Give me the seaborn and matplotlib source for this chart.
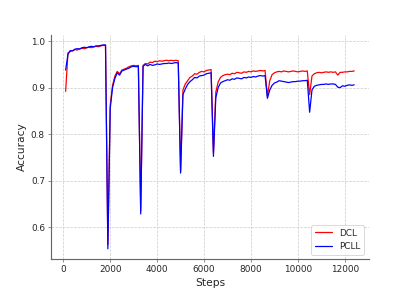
import numpy as np
import pandas as pd
import matplotlib
matplotlib.use("Agg")
import matplotlib.pyplot as plt
import seaborn as sns

# evaluation every 100 steps
steps = list(range(100, 12500, 100))

dcl = [
    # task 1
    0.892, 0.975, 0.978, 0.980, 0.982, 0.981, 0.984, 0.985, 0.984, 0.986,
    0.987, 0.986, 0.988, 0.989, 0.988, 0.990, 0.991, 0.991,
    0.562,
    # task 2
    0.862, 0.905, 0.925, 0.935, 0.930, 0.938, 0.940, 0.942, 0.945, 0.947,
    0.948, 0.947, 0.948,
    0.635,
    # task 3
    0.948, 0.952, 0.951, 0.955, 0.954, 0.957, 0.956, 0.958, 0.957, 0.958,
    0.959, 0.958, 0.959, 0.958, 0.959, 0.958,
    0.720,
    # task 4
    0.895, 0.908, 0.915, 0.922, 0.925, 0.930, 0.929, 0.933, 0.935, 0.934,
    0.937, 0.938, 0.939,
    0.760,
    # task 5
    0.890, 0.912, 0.922, 0.926, 0.928, 0.929, 0.928, 0.931, 0.930, 0.933,
    0.932, 0.931, 0.934, 0.933, 0.935, 0.934, 0.936, 0.935, 0.936, 0.937,
    0.936, 0.937,
    0.882,
    # task 6
    0.915, 0.928, 0.932, 0.934, 0.935, 0.934, 0.936, 0.935, 0.934, 0.935,
    0.936, 0.935, 0.934, 0.935, 0.936, 0.935, 0.936,
    0.885,
    # task 7
    0.925, 0.930, 0.932, 0.933, 0.932, 0.933, 0.934, 0.933, 0.934, 0.933,
    0.934, 0.927, 0.933, 0.933, 0.934, 0.934, 0.935, 0.935, 0.936,
]

pcll = [
    0.938, 0.972, 0.980, 0.979, 0.983, 0.984, 0.983, 0.986, 0.987, 0.986,
    0.988, 0.989, 0.988, 0.990, 0.990, 0.991, 0.992, 0.992,
    0.553,
    0.855, 0.900, 0.920, 0.932, 0.927, 0.936, 0.938, 0.940, 0.942, 0.945,
    0.946, 0.945, 0.946,
    0.628,
    0.946, 0.950, 0.947, 0.950, 0.948, 0.949, 0.951, 0.950, 0.951, 0.952,
    0.952, 0.953, 0.952, 0.953, 0.954, 0.953,
    0.716,
    0.885, 0.897, 0.907, 0.913, 0.917, 0.922, 0.921, 0.925, 0.926, 0.927,
    0.930, 0.931, 0.932,
    0.752,
    0.878, 0.900, 0.910, 0.913, 0.915, 0.917, 0.916, 0.919, 0.918, 0.921,
    0.920, 0.919, 0.922, 0.921, 0.923, 0.922, 0.924, 0.923, 0.925, 0.926,
    0.925, 0.926,
    0.877,
    0.895, 0.905, 0.910, 0.912, 0.915, 0.914, 0.913, 0.912, 0.911, 0.912,
    0.913, 0.913, 0.914, 0.914, 0.915, 0.915, 0.916,
    0.847,
    0.895, 0.903, 0.905, 0.906, 0.907, 0.907, 0.908, 0.907, 0.908, 0.908,
    0.907, 0.901, 0.900, 0.904, 0.903, 0.905, 0.906, 0.905, 0.906,
]

df = pd.DataFrame({"Steps": steps * 2,
                   "Accuracy": dcl + pcll,
                   "method": ["DCL"] * len(steps) + ["PCLL"] * len(steps)})

sns.set_style("ticks")
fig, ax = plt.subplots(figsize=(6.4, 4.55), dpi=64)

sns.lineplot(data=df, x="Steps", y="Accuracy", hue="method",
             palette={"DCL": "red", "PCLL": "blue"}, linewidth=1.4, ax=ax)

ax.grid(True, linestyle="--", color="#cccccc", linewidth=0.8)
sns.despine(ax=ax)
for s in ["left", "bottom"]:
    ax.spines[s].set_color("#666666")
    ax.spines[s].set_linewidth(1.3)
ax.tick_params(labelsize=10, color="#666666")
ax.set_xlabel("Steps", fontsize=12)
ax.set_ylabel("Accuracy", fontsize=12)
ax.set_yticks([0.6, 0.7, 0.8, 0.9, 1.0])

ax.legend(title=None, loc="lower right", fontsize=10)

fig.subplots_adjust(left=0.125, right=0.9, bottom=0.11, top=0.88)
fig.savefig("out.png")
